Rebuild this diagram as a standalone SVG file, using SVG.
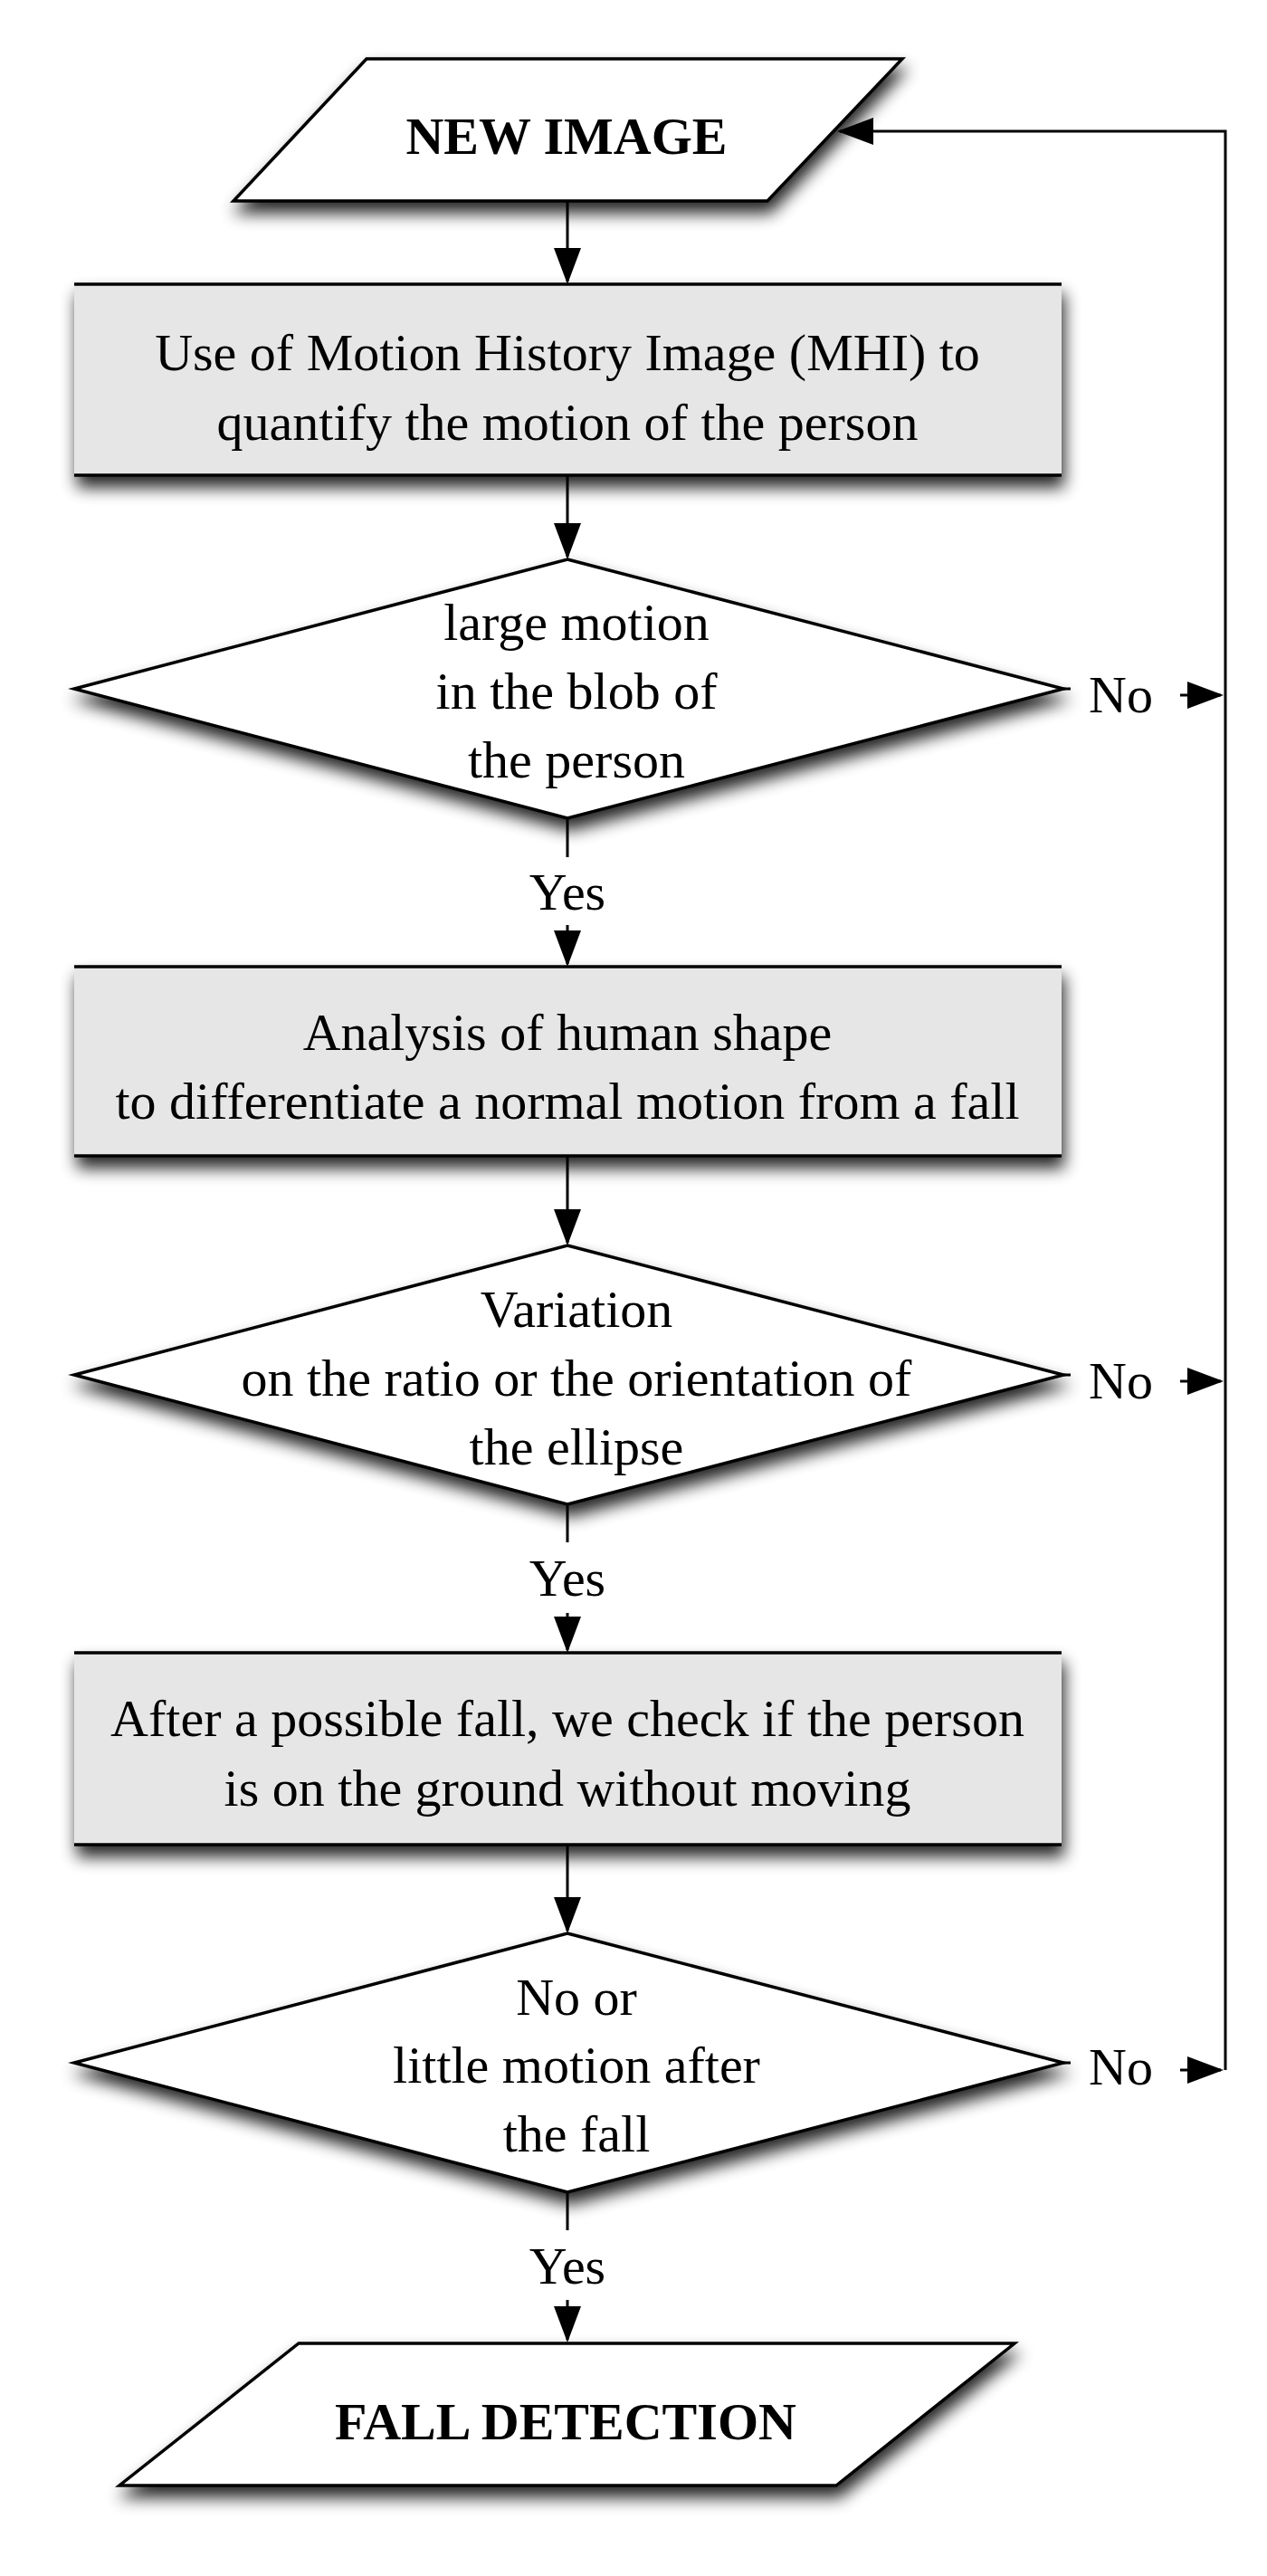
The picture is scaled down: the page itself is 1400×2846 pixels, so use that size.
<svg xmlns="http://www.w3.org/2000/svg" width="1400" height="2846" viewBox="0 0 1400 2846">
<defs>
<style>
.bg{fill:#ffffff}
.shape{fill:#ffffff;stroke:#000;stroke-width:3.5;stroke-linejoin:miter}
.boxfill{fill:#e6e6e6;stroke:none}
.edge{stroke:#000;stroke-width:3.5}
.conn{fill:none;stroke:#000;stroke-width:3}
.t{font-family:"Liberation Serif","Times New Roman",serif;font-size:58px;fill:#000;text-anchor:middle}
.tb{font-family:"Liberation Serif","Times New Roman",serif;font-size:58px;font-weight:bold;fill:#000;text-anchor:middle}
.lbl{font-family:"Liberation Serif","Times New Roman",serif;font-size:58px;fill:#000}
</style>
<filter id="sh" x="-10%" y="-30%" width="125%" height="170%">
<feGaussianBlur in="SourceAlpha" stdDeviation="9"/>
<feOffset dx="3" dy="12" result="b"/>
<feComponentTransfer in="b" result="c"><feFuncA type="linear" slope="0.85"/></feComponentTransfer>
<feMerge><feMergeNode in="c"/><feMergeNode in="SourceGraphic"/></feMerge>
</filter>
<marker id="ah" markerUnits="userSpaceOnUse" markerWidth="40" markerHeight="30" refX="37" refY="15" orient="auto" viewBox="0 0 40 30">
<path d="M0,0 L40,15 L0,30 z" fill="#000"/>
</marker>
</defs>
<rect class="bg" x="0" y="0" width="1400" height="2846"/>

<g id="connectors">
<path class="conn" d="M627,222 V311" marker-end="url(#ah)"/>
<path class="conn" d="M627,525 V615" marker-end="url(#ah)"/>
<path class="conn" d="M627,904 V947 M627,1022 V1065" marker-end="url(#ah)"/>
<path class="conn" d="M627,1277 V1373" marker-end="url(#ah)"/>
<path class="conn" d="M627,1662 V1704 M627,1782 V1823" marker-end="url(#ah)"/>
<path class="conn" d="M627,2038 V2133" marker-end="url(#ah)"/>
<path class="conn" d="M627,2422 V2464 M627,2541 V2585" marker-end="url(#ah)"/>
<path class="conn" d="M1175,761 H1183 M1304,768 H1349" marker-end="url(#ah)"/>
<path class="conn" d="M1175,1519 H1183 M1304,1526 H1349" marker-end="url(#ah)"/>
<path class="conn" d="M1175,2279 H1183 M1304,2287 H1349" marker-end="url(#ah)"/>
<path class="conn" d="M1354,2287 V145 H928" marker-end="url(#ah)"/>
<text class="t" x="627" y="1005">Yes</text>
<text class="t" x="627" y="1763">Yes</text>
<text class="t" x="627" y="2523">Yes</text>
<text class="lbl" x="1203" y="787">No</text>
<text class="lbl" x="1203" y="1545">No</text>
<text class="lbl" x="1203" y="2303">No</text>
</g>

<g id="new-image">
<polygon class="shape" filter="url(#sh)" points="405,65 997,65 848,222 258,222"/>
<text class="tb" x="626" y="170">NEW IMAGE</text>
</g>

<g id="mhi">
<g filter="url(#sh)">
<rect class="boxfill" x="82" y="314" width="1091" height="211"/>
<line class="edge" x1="82" y1="314" x2="1173" y2="314"/>
<line class="edge" x1="82" y1="525" x2="1173" y2="525"/>
</g>
<text class="t" x="627" y="409">Use of Motion History Image (MHI) to</text>
<text class="t" x="627" y="486">quantify the motion of the person</text>
</g>

<g id="decision-large-motion">
<polygon class="shape" filter="url(#sh)" points="627,618 1175,761 627,904 82,761"/>
<text class="t" x="637" y="707">large motion</text>
<text class="t" x="637" y="783">in the blob of</text>
<text class="t" x="637" y="859">the person</text>
</g>

<g id="shape-analysis">
<g filter="url(#sh)">
<rect class="boxfill" x="82" y="1068" width="1091" height="209"/>
<line class="edge" x1="82" y1="1068" x2="1173" y2="1068"/>
<line class="edge" x1="82" y1="1277" x2="1173" y2="1277"/>
</g>
<text class="t" x="627" y="1160">Analysis of human shape</text>
<text class="t" x="627" y="1236">to differentiate a normal motion from a fall</text>
</g>

<g id="decision-variation">
<polygon class="shape" filter="url(#sh)" points="627,1376 1175,1519 627,1662 82,1519"/>
<text class="t" x="637" y="1466">Variation</text>
<text class="t" x="637" y="1542">on the ratio or the orientation of</text>
<text class="t" x="637" y="1618">the ellipse</text>
</g>

<g id="ground-check">
<g filter="url(#sh)">
<rect class="boxfill" x="82" y="1826" width="1091" height="212"/>
<line class="edge" x1="82" y1="1826" x2="1173" y2="1826"/>
<line class="edge" x1="82" y1="2038" x2="1173" y2="2038"/>
</g>
<text class="t" x="627" y="1918">After a possible fall, we check if the person</text>
<text class="t" x="627" y="1995">is on the ground without moving</text>
</g>

<g id="decision-little-motion">
<polygon class="shape" filter="url(#sh)" points="627,2136 1175,2279 627,2422 82,2279"/>
<text class="t" x="637" y="2226">No or</text>
<text class="t" x="637" y="2301">little motion after</text>
<text class="t" x="637" y="2377">the fall</text>
</g>

<g id="fall-detection">
<polygon class="shape" filter="url(#sh)" points="330,2589 1121,2589 924,2746 132,2746"/>
<text class="tb" x="625" y="2695">FALL DETECTION</text>
</g>
</svg>
